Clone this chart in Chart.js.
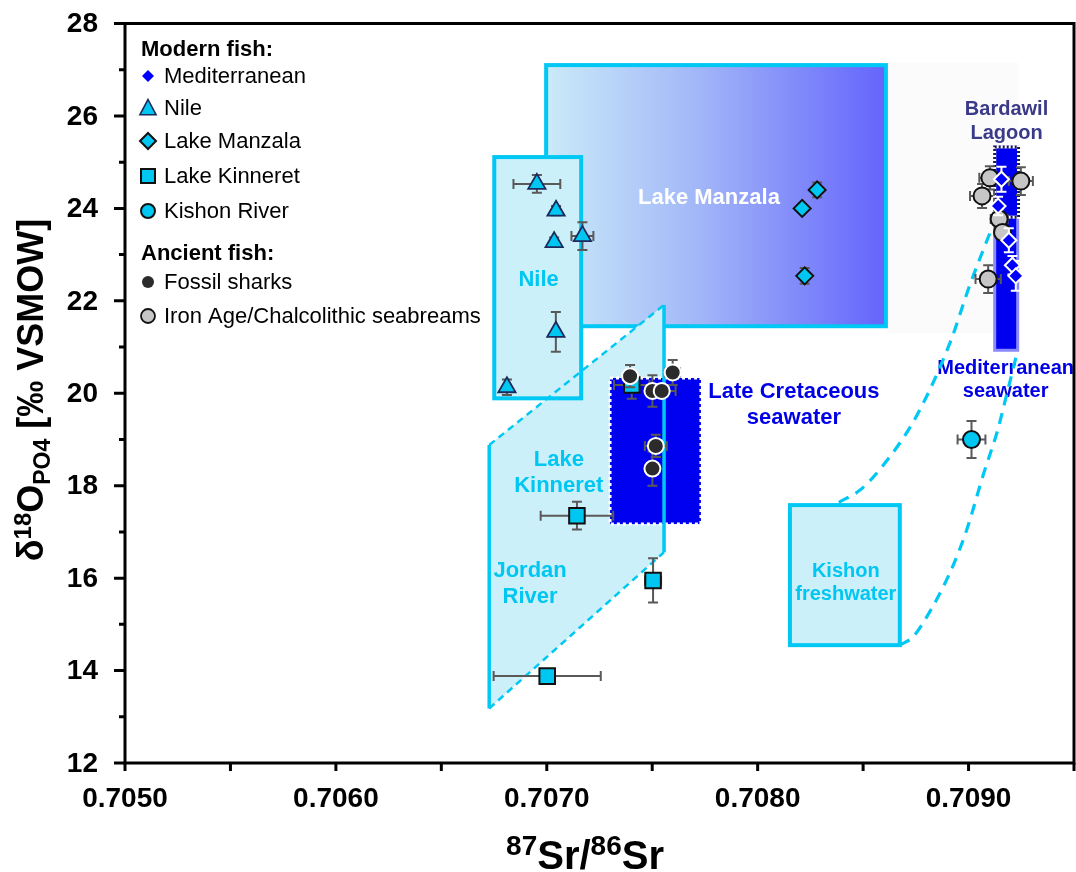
<!DOCTYPE html>
<html>
<head>
<meta charset="utf-8">
<script src="https://cdn.jsdelivr.net/npm/chart.js@4/dist/chart.umd.min.js"></script>
<style>
  html, body { margin: 0; padding: 0; background: #ffffff; }
  #wrap { width: 1076px; height: 872px; }
</style>
</head>
<body>
<div id="wrap"><canvas id="chart" width="1076" height="872"></canvas></div>
<script>
// ---- Modern fish ----
const medX = [0.709156, 0.709140, 0.709191, 0.709208, 0.709224];
const medY = [24.63, 24.05, 23.31, 22.77, 22.54];
const medXErr = [0, 0, 0, 0, 0];
const medYErr = [0.27, 0.20, 0.26, 0.20, 0.32];

const nileX = [0.706953, 0.707044, 0.707035, 0.707169, 0.707043, 0.706811];
const nileY = [24.53, 23.95, 23.27, 23.40, 21.33, 20.13];
const nileXErr = [0.000111, 0, 0, 0.000052, 0, 0];
const nileYErr = [0.19, 0.10, 0.10, 0.30, 0.43, 0.17];

const manzalaX = [0.708282, 0.708211, 0.708223];
const manzalaY = [24.40, 24.00, 22.54];
const manzalaXErr = [0, 0, 0];
const manzalaYErr = [0.16, 0, 0.17];

const kinneretX = [0.707143, 0.707504, 0.707002, 0.707403];
const kinneretY = [17.35, 15.95, 13.88, 20.18];
const kinneretXErr = [0.000172, 0.000038, 0.000254, 0.000084];
const kinneretYErr = [0.30, 0.48, 0, 0.30];

const kishonX = [0.709014];
const kishonY = [19.00];
const kishonXErr = [0.000066];
const kishonYErr = [0.40];

// ---- Ancient fish ----
const sharkX = [0.707395, 0.707597, 0.707501, 0.707545, 0.707517, 0.707501];
const sharkY = [20.37, 20.45, 20.05, 20.05, 18.86, 18.37];
const sharkXErr = [0, 0.000035, 0, 0.000066, 0.000052, 0];
const sharkYErr = [0.24, 0.27, 0.34, 0.10, 0.24, 0.37];

const breamX = [0.709101, 0.709248, 0.709064, 0.709145, 0.709161, 0.709093];
const breamY = [24.66, 24.59, 24.27, 23.77, 23.48, 22.47];
const breamXErr = [0.00005, 0.000057, 0.000057, 0.00004, 0, 0.00006];
const breamYErr = [0.25, 0.30, 0.26, 0.20, 0, 0.30];

// ---- Source fields (data units) ----
const manzalaField = { x0: 0.706997, x1: 0.708608, y0: 21.45, y1: 27.10 };
const manzalaShadow = { x0: 0.708613, x1: 0.709238, y0: 21.30, y1: 27.15 };
const nileField = { x0: 0.706751, x1: 0.707163, y0: 19.89, y1: 25.11 };
// Jordan River / Lake Kinneret band: upper-left, upper-right, lower-right, lower-left
const jordanField = [[0.706727, 18.88], [0.707556, 21.91], [0.707556, 16.56], [0.706727, 13.18]];
const cretaceousField = { x0: 0.707300, x1: 0.707731, y0: 17.17, y1: 20.33 };
const kishonField = { x0: 0.708153, x1: 0.708674, y0: 14.55, y1: 17.58 };
const medSeawaterField = { x0: 0.709124, x1: 0.709233, y0: 20.93, y1: 25.33 };
const bardawilField = { x0: 0.709124, x1: 0.709237, y0: 23.81, y1: 25.33 };

// Mixing envelopes between Kishon freshwater and Mediterranean seawater
const mixUpperX = [0.708385, 0.708484, 0.708588, 0.708750, 0.708911, 0.709006, 0.709110];
const mixUpperY = [17.64, 17.90, 18.40, 19.48, 21.08, 22.34, 23.57];
const mixLowerX = [0.708674, 0.708735, 0.708787, 0.708911, 0.708991, 0.709072, 0.709138, 0.709171, 0.709233];
const mixLowerY = [14.55, 14.72, 15.05, 16.11, 17.04, 18.27, 19.20, 19.79, 20.93];

// ---- Axis ticks ----
const xMin = 0.7050, xMax = 0.7095, xStep = 0.0005;
const yMin = 12, yMax = 28, yStep = 1;

// ---- Field labels ----
const fieldLabels = [
  { lines: ['Lake Manzala'], x: 0.707769, y: 24.22, color: '#ffffff', size: 22 },
  { lines: ['Nile'], x: 0.706961, y: 22.45, color: '#00c6f2', size: 22 },
  { lines: ['Lake', 'Kinneret'], x: 0.707057, y: 18.55, color: '#00c6f2', size: 22 },
  { lines: ['Jordan', 'River'], x: 0.706921, y: 16.15, color: '#00c6f2', size: 22 },
  { lines: ['Late Cretaceous', 'seawater'], x: 0.708172, y: 20.02, color: '#0000e6', size: 22 },
  { lines: ['Mediterranean', 'seawater'], x: 0.709176, y: 20.54, color: '#0000e6', size: 20 },
  { lines: ['Bardawil', 'Lagoon'], x: 0.709180, y: 26.13, color: '#3a3a88', size: 20 },
  { lines: ['Kishon', 'freshwater'], x: 0.708418, y: 16.15, color: '#00c6f2', size: 20 }
];

const FAMILY = "'Liberation Sans', Arial, Helvetica, sans-serif";
const CYAN = '#00c6f2';
const CYAN_EDGE = '#00c8f5';
const PALE = '#ccf0f9';
const DEEP = '#0000f0';

function pts(xs, ys) { return xs.map((x, i) => ({ x: x, y: ys[i] })); }

function pointSet(label, xs, ys, xe, ye, style, order) {
  return Object.assign({
    label: label,
    data: pts(xs, ys),
    xErr: xe,
    yErr: ye,
    order: order
  }, style);
}

const datasets = [
  pointSet('Mediterranean', medX, medY, medXErr, medYErr,
    { pointStyle: 'rectRot', pointRadius: 7.5, backgroundColor: '#0000ff', borderColor: '#ffffff', borderWidth: 2, errColor: '#ffffff' }, 1),
  pointSet('Fossil sharks', sharkX, sharkY, sharkXErr, sharkYErr,
    { pointStyle: 'circle', pointRadius: 8, backgroundColor: '#2b2b2b', borderColor: '#ffffff', borderWidth: 2, errColor: '#595959' }, 2),
  pointSet('Iron Age/Chalcolithic seabreams', breamX, breamY, breamXErr, breamYErr,
    { pointStyle: 'circle', pointRadius: 8.5, backgroundColor: '#c6c6c6', borderColor: '#111111', borderWidth: 2, errColor: '#595959' }, 3),
  pointSet('Kishon River', kishonX, kishonY, kishonXErr, kishonYErr,
    { pointStyle: 'circle', pointRadius: 8.5, backgroundColor: CYAN, borderColor: '#111111', borderWidth: 2, errColor: '#595959' }, 4),
  pointSet('Lake Kinneret', kinneretX, kinneretY, kinneretXErr, kinneretYErr,
    { pointStyle: 'rect', pointRadius: 11, backgroundColor: CYAN, borderColor: '#111111', borderWidth: 2, errColor: '#595959' }, 5),
  pointSet('Lake Manzala', manzalaX, manzalaY, manzalaXErr, manzalaYErr,
    { pointStyle: 'rectRot', pointRadius: 8.5, backgroundColor: CYAN, borderColor: '#111111', borderWidth: 2, errColor: '#595959' }, 6),
  pointSet('Nile', nileX, nileY, nileXErr, nileYErr,
    { pointStyle: 'triangle', pointRadius: 10, backgroundColor: CYAN, borderColor: '#1c2a5c', borderWidth: 1.8, errColor: '#595959' }, 7),
  {
    type: 'line', label: 'mix upper', data: pts(mixUpperX, mixUpperY), showLine: true,
    borderColor: CYAN_EDGE, borderWidth: 3.2, borderDash: [11, 8], pointRadius: 0, fill: false,
    cubicInterpolationMode: 'monotone', order: 8
  },
  {
    type: 'line', label: 'mix lower', data: pts(mixLowerX, mixLowerY), showLine: true,
    borderColor: CYAN_EDGE, borderWidth: 3.2, borderDash: [11, 8], pointRadius: 0, fill: false,
    cubicInterpolationMode: 'monotone', order: 9
  }
];

function box(chart, b) {
  const xs = chart.scales.x, ys = chart.scales.y;
  const l = xs.getPixelForValue(b.x0), r = xs.getPixelForValue(b.x1);
  const t = ys.getPixelForValue(b.y1), btm = ys.getPixelForValue(b.y0);
  return { l: l, t: t, w: r - l, h: btm - t };
}

// Background fields and their labels
const fieldsPlugin = {
  id: 'fields',
  beforeDatasetsDraw(chart) {
    const ctx = chart.ctx, xs = chart.scales.x, ys = chart.scales.y;
    ctx.save();

    let b = box(chart, manzalaShadow);
    ctx.fillStyle = '#fbfbfc';
    ctx.fillRect(b.l, b.t, b.w, b.h);

    b = box(chart, manzalaField);
    const g = ctx.createLinearGradient(b.l, 0, b.l + b.w, 0);
    g.addColorStop(0, '#caebf8');
    g.addColorStop(0.45, '#a2b6f8');
    g.addColorStop(1, '#6464fc');
    ctx.fillStyle = g;
    ctx.fillRect(b.l, b.t, b.w, b.h);
    ctx.strokeStyle = CYAN_EDGE; ctx.lineWidth = 4;
    ctx.strokeRect(b.l, b.t, b.w, b.h);

    const jp = jordanField.map(p => [xs.getPixelForValue(p[0]), ys.getPixelForValue(p[1])]);
    ctx.fillStyle = PALE;
    ctx.beginPath();
    jp.forEach((p, i) => i ? ctx.lineTo(p[0], p[1]) : ctx.moveTo(p[0], p[1]));
    ctx.closePath();
    ctx.fill();

    b = box(chart, nileField);
    ctx.fillStyle = PALE;
    ctx.fillRect(b.l, b.t, b.w, b.h);
    ctx.strokeStyle = CYAN_EDGE; ctx.lineWidth = 4;
    ctx.strokeRect(b.l, b.t, b.w, b.h);

    b = box(chart, cretaceousField);
    ctx.fillStyle = DEEP;
    ctx.fillRect(b.l, b.t, b.w, b.h);
    ctx.strokeStyle = '#ffffff'; ctx.lineWidth = 3; ctx.setLineDash([3, 3]);
    ctx.strokeRect(b.l, b.t, b.w, b.h);
    ctx.setLineDash([]);

    // band outline: solid sides, dashed top and bottom
    ctx.strokeStyle = CYAN_EDGE;
    ctx.lineWidth = 3.5;
    ctx.beginPath();
    ctx.moveTo(jp[0][0], jp[0][1]); ctx.lineTo(jp[3][0], jp[3][1]);
    ctx.moveTo(jp[1][0], jp[1][1]); ctx.lineTo(jp[2][0], jp[2][1]);
    ctx.stroke();
    ctx.lineWidth = 2.5; ctx.setLineDash([7, 5]);
    ctx.beginPath();
    ctx.moveTo(jp[0][0], jp[0][1]); ctx.lineTo(jp[1][0], jp[1][1]);
    ctx.moveTo(jp[3][0], jp[3][1]); ctx.lineTo(jp[2][0], jp[2][1]);
    ctx.stroke();
    ctx.setLineDash([]);

    b = box(chart, kishonField);
    ctx.fillStyle = PALE;
    ctx.fillRect(b.l, b.t, b.w, b.h);
    ctx.strokeStyle = CYAN_EDGE; ctx.lineWidth = 4;
    ctx.strokeRect(b.l, b.t, b.w, b.h);

    b = box(chart, medSeawaterField);
    ctx.fillStyle = DEEP;
    ctx.fillRect(b.l, b.t, b.w, b.h);
    ctx.strokeStyle = '#8a8aff'; ctx.lineWidth = 3;
    ctx.strokeRect(b.l, b.t, b.w, b.h);

    b = box(chart, bardawilField);
    ctx.fillStyle = DEEP;
    ctx.fillRect(b.l, b.t, b.w, b.h);
    ctx.strokeStyle = '#ffffff'; ctx.lineWidth = 3;
    ctx.strokeRect(b.l, b.t, b.w, b.h);
    ctx.strokeStyle = '#1a1a50'; ctx.setLineDash([2, 2]);
    ctx.strokeRect(b.l, b.t, b.w, b.h);
    ctx.setLineDash([]);

    ctx.textAlign = 'center';
    ctx.textBaseline = 'middle';
    fieldLabels.forEach(lab => {
      ctx.font = 'bold ' + lab.size + 'px ' + FAMILY;
      ctx.fillStyle = lab.color;
      const cx = xs.getPixelForValue(lab.x), cy = ys.getPixelForValue(lab.y);
      const lh = lab.size * 1.18;
      lab.lines.forEach((s, i) => ctx.fillText(s, cx, cy + i * lh));
    });
    ctx.restore();
  }
};

// Error bars, drawn just beneath each marker series
const errorBarPlugin = {
  id: 'errorBars',
  beforeDatasetDraw(chart, args) {
    const ds = chart.data.datasets[args.index];
    if (!ds.xErr) return;
    const ctx = chart.ctx, xs = chart.scales.x, ys = chart.scales.y;
    const cap = 5;
    ctx.save();
    ctx.strokeStyle = ds.errColor;
    ctx.lineWidth = 2;
    ds.data.forEach((p, i) => {
      const cx = xs.getPixelForValue(p.x), cy = ys.getPixelForValue(p.y);
      const ex = ds.xErr[i], ey = ds.yErr[i];
      ctx.beginPath();
      if (ex > 0) {
        const a = xs.getPixelForValue(p.x - ex), c = xs.getPixelForValue(p.x + ex);
        ctx.moveTo(a, cy); ctx.lineTo(c, cy);
        ctx.moveTo(a, cy - cap); ctx.lineTo(a, cy + cap);
        ctx.moveTo(c, cy - cap); ctx.lineTo(c, cy + cap);
      }
      if (ey > 0) {
        const a = ys.getPixelForValue(p.y - ey), c = ys.getPixelForValue(p.y + ey);
        ctx.moveTo(cx, a); ctx.lineTo(cx, c);
        ctx.moveTo(cx - cap, a); ctx.lineTo(cx + cap, a);
        ctx.moveTo(cx - cap, c); ctx.lineTo(cx + cap, c);
      }
      ctx.stroke();
    });
    ctx.restore();
  }
};

function marker(ctx, kind, x, y, s, fill, stroke, lw) {
  ctx.beginPath();
  if (kind === 'diamond') {
    ctx.moveTo(x - s, y); ctx.lineTo(x, y - s); ctx.lineTo(x + s, y); ctx.lineTo(x, y + s);
    ctx.closePath();
  } else if (kind === 'triangle') {
    ctx.moveTo(x, y - s); ctx.lineTo(x + s * 0.95, y + s * 0.8); ctx.lineTo(x - s * 0.95, y + s * 0.8);
    ctx.closePath();
  } else if (kind === 'square') {
    ctx.rect(x - s, y - s, 2 * s, 2 * s);
  } else {
    ctx.arc(x, y, s, 0, Math.PI * 2);
  }
  ctx.fillStyle = fill; ctx.fill();
  if (lw > 0) { ctx.strokeStyle = stroke; ctx.lineWidth = lw; ctx.stroke(); }
}

function richText(ctx, pieces, x, y) {
  let total = 0;
  const widths = pieces.map(p => {
    ctx.font = 'bold ' + p.size + 'px ' + FAMILY;
    const w = ctx.measureText(p.t).width;
    total += w;
    return w;
  });
  let cx = x - total / 2;
  pieces.forEach((p, i) => {
    ctx.font = 'bold ' + p.size + 'px ' + FAMILY;
    ctx.fillText(p.t, cx, y + p.dy);
    cx += widths[i];
  });
}

function xTickText(v) { return Math.round(v * 10000) % 10 === 0 ? Number(v).toFixed(4) : ''; }
function yTickText(v) { const r = Math.round(v); return r % 2 === 0 ? String(r) : ''; }

// Frame, tick marks and labels, legend and axis titles
const framePlugin = {
  id: 'frame',
  afterDraw(chart) {
    const ctx = chart.ctx, ca = chart.chartArea, xs = chart.scales.x, ys = chart.scales.y;
    ctx.save();
    ctx.strokeStyle = '#000000';
    ctx.lineWidth = 3;
    ctx.strokeRect(ca.left, ca.top, ca.right - ca.left, ca.bottom - ca.top);
    ctx.beginPath();
    xs.ticks.forEach(t => {
      const p = xs.getPixelForValue(t.value);
      ctx.moveTo(p, ca.bottom); ctx.lineTo(p, ca.bottom + 8);
    });
    ys.ticks.forEach(t => {
      const p = ys.getPixelForValue(t.value);
      const len = yTickText(t.value) !== '' ? 11 : 6;
      ctx.moveTo(ca.left - len, p); ctx.lineTo(ca.left, p);
    });
    ctx.stroke();

    // tick labels
    ctx.fillStyle = '#000000';
    ctx.font = 'bold 28px ' + FAMILY;
    ctx.textBaseline = 'middle';
    ctx.textAlign = 'center';
    xs.ticks.forEach(t => {
      const s = xTickText(t.value);
      if (s) ctx.fillText(s, xs.getPixelForValue(t.value), ca.bottom + 36);
    });
    ctx.textAlign = 'right';
    ys.ticks.forEach(t => {
      const s = yTickText(t.value);
      if (s) ctx.fillText(s, ca.left - 27, ys.getPixelForValue(t.value) + 1);
    });

    // legend
    ctx.textAlign = 'left';
    ctx.font = 'bold 22px ' + FAMILY;
    ctx.fillText('Modern fish:', 141, 50);
    ctx.fillText('Ancient fish:', 141, 254);
    const items = [
      { kind: 'diamond', s: 6, fill: '#0000ff', stroke: '#0000ff', lw: 0, text: 'Mediterranean', y: 76 },
      { kind: 'triangle', s: 8.5, fill: CYAN, stroke: '#1c2a5c', lw: 1.6, text: 'Nile', y: 108 },
      { kind: 'diamond', s: 8, fill: CYAN, stroke: '#111111', lw: 2, text: 'Lake Manzala', y: 141 },
      { kind: 'square', s: 7, fill: CYAN, stroke: '#111111', lw: 2, text: 'Lake Kinneret', y: 176 },
      { kind: 'circle', s: 7, fill: CYAN, stroke: '#111111', lw: 2, text: 'Kishon River', y: 211 },
      { kind: 'circle', s: 6, fill: '#2b2b2b', stroke: '#2b2b2b', lw: 0, text: 'Fossil sharks', y: 282 },
      { kind: 'circle', s: 7, fill: '#c6c6c6', stroke: '#111111', lw: 1.8, text: 'Iron Age/Chalcolithic seabreams', y: 316 }
    ];
    items.forEach(it => {
      marker(ctx, it.kind, 148, it.y, it.s, it.fill, it.stroke, it.lw);
      ctx.fillStyle = '#000000';
      ctx.font = '22px ' + FAMILY;
      ctx.fillText(it.text, 164, it.y + 1);
    });

    // axis titles
    ctx.fillStyle = '#000000';
    ctx.textAlign = 'left';
    ctx.textBaseline = 'alphabetic';
    richText(ctx, [
      { t: '87', size: 28, dy: -14 },
      { t: 'Sr/', size: 40, dy: 0 },
      { t: '86', size: 28, dy: -14 },
      { t: 'Sr', size: 40, dy: 0 }
    ], 585, 869);

    ctx.translate(43, 390);
    ctx.rotate(-Math.PI / 2);
    richText(ctx, [
      { t: '\u03b4', size: 36, dy: 0 },
      { t: '18', size: 24, dy: -12 },
      { t: 'O', size: 36, dy: 0 },
      { t: 'PO4', size: 23, dy: 7 },
      { t: ' [\u2030 VSMOW]', size: 36, dy: 0 }
    ], 0, 0);
    ctx.restore();
  }
};

new Chart(document.getElementById('chart').getContext('2d'), {
  type: 'scatter',
  data: { datasets: datasets },
  options: {
    responsive: false,
    animation: false,
    devicePixelRatio: 1,
    layout: { autoPadding: false, padding: { top: 23.5, right: 2, left: 0, bottom: 0 } },
    plugins: { legend: { display: false }, tooltip: { enabled: false } },
    scales: {
      x: {
        type: 'linear', min: xMin, max: xMax,
        afterFit(scale) { scale.height = 109; },
        grid: { display: false }, border: { display: false },
        ticks: { stepSize: xStep, autoSkip: false, display: false }
      },
      y: {
        type: 'linear', min: yMin, max: yMax,
        afterFit(scale) { scale.width = 125; },
        grid: { display: false }, border: { display: false },
        ticks: { stepSize: yStep, autoSkip: false, display: false }
      }
    }
  },
  plugins: [fieldsPlugin, errorBarPlugin, framePlugin]
});
</script>
</body>
</html>
